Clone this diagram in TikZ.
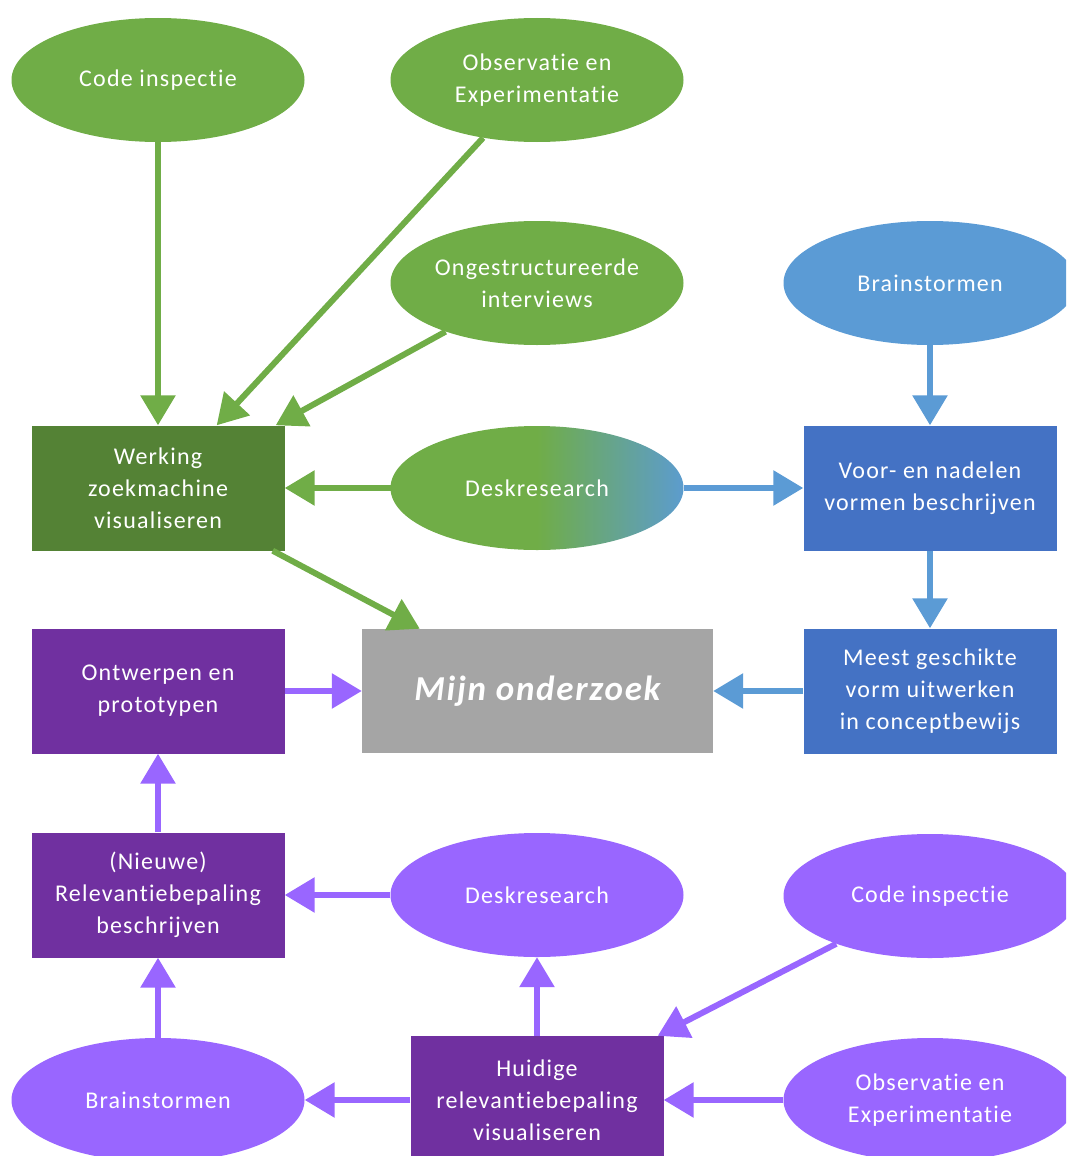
\documentclass[tikz,border=0pt]{standalone}
\usepackage{fontspec}
\setmainfont{Carlito}[LetterSpace=5, Ligatures={NoCommon}]
\usetikzlibrary{shapes.geometric,arrows.meta}
\definecolor{gLight}{HTML}{70AD47}
\definecolor{gDark}{HTML}{548235}
\definecolor{bLight}{HTML}{5B9BD5}
\definecolor{bDark}{HTML}{4472C4}
\definecolor{grey}{HTML}{A5A5A5}
\definecolor{pDark}{HTML}{7030A0}
\definecolor{pLight}{HTML}{9966FF}
% green on the left half, fading to blue towards the right edge
\pgfdeclarehorizontalshading{deskgrad}{100bp}{color(0bp)=(gLight); color(50bp)=(gLight); color(75bp)=(bLight!95!gLight); color(100bp)=(bLight)}
\tikzset{
  lbl/.style={text=white, align=center, font=\fontsize{24}{32}\selectfont},
  oval/.style={lbl, ellipse, inner sep=0pt, minimum width=293pt, minimum height=124pt},
  box/.style={lbl, rectangle, inner sep=0pt, minimum width=253pt, minimum height=125pt},
  conn/.style={line width=6pt, -{Triangle[length=30pt,width=34pt]}},
}
\begin{document}
\begin{tikzpicture}[x=1pt,y=-1pt]
\useasboundingbox (0,0) rectangle (1066,1156);
\clip (0,0) rectangle (1066,1156);

% top green sources
\node[oval, fill=gLight] (ci) at (158,80) {Code inspectie};
\node[oval, fill=gLight] (oe) at (537,80) {Observatie en\\Experimentatie};
\node[oval, fill=gLight] (oi) at (537,283) {Ongestructureerde\\interviews};
\node[oval, fill=bLight] (bs) at (930,283) {Brainstormen};

% middle row
\node[box, fill=gDark] (wz) at (158,488) {Werking\\zoekmachine\\visualiseren};
\node[oval, shading=deskgrad] (dr) at (537,488) {Deskresearch};
\node[box, fill=bDark] (vn) at (930,488) {Voor- en nadelen\\vormen beschrijven};

\node[box, fill=pDark] (op) at (158,691) {Ontwerpen en\\prototypen};
\node[rectangle, inner sep=0pt, minimum width=351pt, minimum height=124pt, fill=grey,
      text=white, font=\fontsize{35}{40}\selectfont\bfseries\itshape] (mo) at (537.5,691) {Mijn onderzoek};
\node[box, fill=bDark] (mg) at (930,691) {Meest geschikte\\vorm uitwerken\\in conceptbewijs};

% bottom purple part
\node[box, fill=pDark] (rb) at (158,895) {(Nieuwe)\\Relevantiebepaling\\beschrijven};
\node[oval, fill=pLight] (dp) at (537,895) {Deskresearch};
\node[oval, fill=pLight] (cp) at (930,896) {Code inspectie};
\node[oval, fill=pLight] (bp) at (158,1100) {Brainstormen};
\node[box, fill=pDark, minimum height=128pt] (hr) at (537,1100) {Huidige\\relevantiebepaling\\visualiseren};
\node[oval, fill=pLight] (op2) at (930,1100) {Observatie en\\Experimentatie};

% green connectors
\draw[conn, gLight] (ci.south) -- (wz.north);
\draw[conn, gLight] (oe.227) -- ([xshift=-68pt]wz.north east);
\draw[conn, gLight] (oi.208.8) -- ([xshift=-9pt]wz.north east);
\draw[conn, gLight] (dr.west) -- (wz.east);
\draw[conn, gLight] ([xshift=-12pt]wz.south east) -- ([xshift=58pt]mo.north west);

% blue connectors
\draw[conn, bLight] (dr.east) -- (vn.west);
\draw[conn, bLight] (bs.south) -- (vn.north);
\draw[conn, bLight] (vn.south) -- (mg.north);
\draw[conn, bLight] (mg.west) -- (mo.east);

% purple connectors
\draw[conn, pLight] (op.east) -- (mo.west);
\draw[conn, pLight] (rb.north) -- (op.south);
\draw[conn, pLight] (dp.west) -- (rb.east);
\draw[conn, pLight] (bp.north) -- (rb.south);
\draw[conn, pLight] (hr.north) -- (dp.south);
\draw[conn, pLight] (hr.west) -- (bp.east);
\draw[conn, pLight] (cp.207.5) -- ([xshift=-6pt]hr.north east);
\draw[conn, pLight] (op2.west) -- (hr.east);
\end{tikzpicture}
\end{document}
